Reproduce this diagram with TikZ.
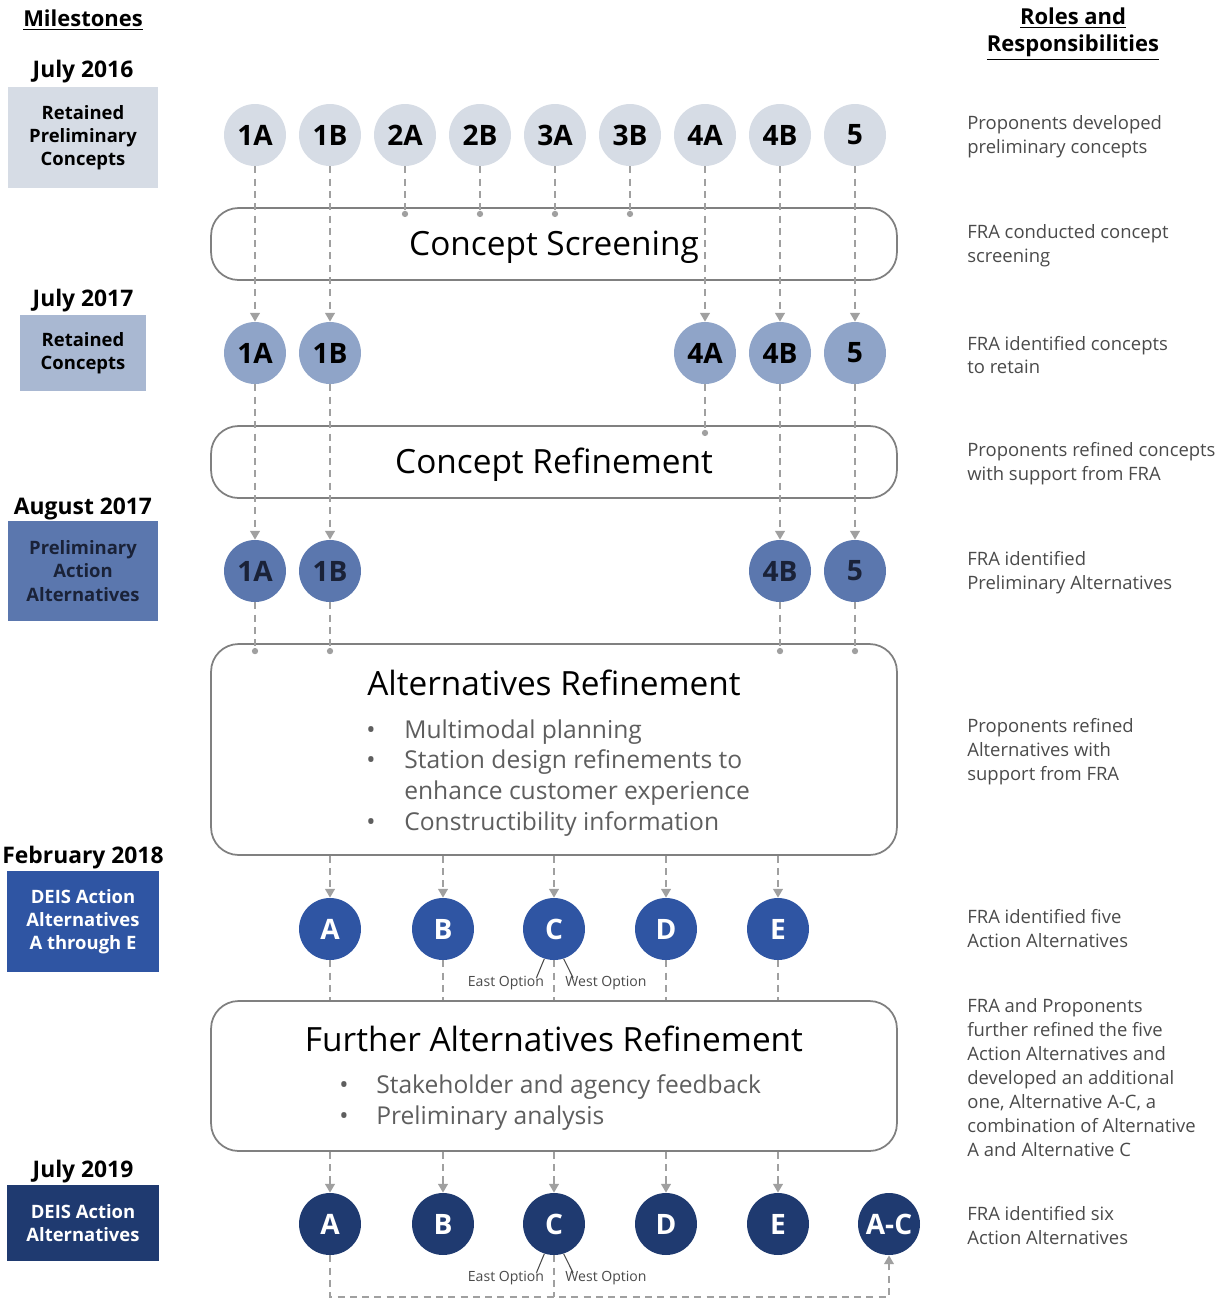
\documentclass[tikz,border=0pt]{standalone}
\usepackage{fontspec}
\setmainfont{Open Sans}
\usepackage{xcolor}
\usetikzlibrary{arrows.meta,positioning}

\definecolor{lineGray}{HTML}{A0A0A0}
\definecolor{frameGray}{HTML}{808080}
\definecolor{noteGray}{HTML}{4A4A4A}
\definecolor{bulletGray}{HTML}{5E5E5E}
\definecolor{shadeA}{HTML}{D6DCE5}
\definecolor{shadeBbox}{HTML}{A9B8D2}
\definecolor{shadeB}{HTML}{8FA4C8}
\definecolor{shadeC}{HTML}{5B77AE}
\definecolor{shadeD}{HTML}{2F55A3}
\definecolor{shadeE}{HTML}{1F3A70}
\definecolor{inkNavy}{HTML}{1A2238}

\begin{document}
\begin{tikzpicture}[
  x=0.02cm, y=-0.02cm,
  mbox/.style={fill=#1, align=center, inner sep=0, minimum width=3cm, font=\bfseries\fontsize{10.5}{13.2}\selectfont},
  date/.style={yshift=-0.05cm, font=\bfseries\fontsize{13}{15}\selectfont},
  head/.style={yshift=-0.04cm, font=\bfseries\fontsize{12.5}{15.5}\selectfont, align=center},
  circ/.style={circle, fill=#1, minimum size=1.24cm, inner sep=0, font=\bfseries\fontsize{16}{16}\selectfont},
  stage/.style={draw=frameGray, line width=1pt, rounded corners=0.55cm, minimum width=13.72cm, inner sep=0},
  title/.style={font=\fontsize{19}{22}\selectfont},
  bullets/.style={anchor=west, align=left, inner sep=0, text=bulletGray, font=\fontsize{14}{17.6}\selectfont},
  note/.style={anchor=west, align=left, inner sep=0, yshift=-0.03cm, text=noteGray, font=\fontsize{10.5}{13.6}\selectfont},
  opt/.style={inner sep=0, text=noteGray, font=\fontsize{8}{9}\selectfont},
  dsh/.style={draw=lineGray, line width=1.1pt, dash pattern=on 4pt off 3pt},
  darr/.style={dsh, -{Triangle[width=5.5pt,length=5pt]}},
  ddot/.style={dsh, -{Circle[length=3.5pt]}}
]
  \useasboundingbox (0,0) rectangle (1230,1299);

  % headers
  \node[head] (hms) at (83,18) {\underline{Milestones}};
  \node[head] (hrr) at (1073,32) {\underline{Roles and}\\\underline{Responsibilities}};

  % milestones
  \node[date] (t1) at (83,69) {July 2016};
  \node[mbox=shadeA, minimum height=2.02cm] (m1) at (83,137.5) {Retained\\Preliminary\\Concepts};
  \node[date] (t2) at (83,298) {July 2017};
  \node[mbox=shadeBbox, minimum width=2.52cm, minimum height=1.52cm] (m2) at (83,353) {Retained\\Concepts};
  \node[date] (t3) at (83,506) {August 2017};
  \node[mbox=shadeC, minimum height=2cm, text=inkNavy] (m3) at (83,571) {Preliminary\\Action\\Alternatives};
  \node[date] (t4) at (83,855) {February 2018};
  \node[mbox=shadeD, minimum width=3.04cm, minimum height=2.02cm, text=white] (m4) at (83,921.5) {DEIS Action\\Alternatives\\A through E};
  \node[date] (t5) at (83,1169) {July 2019};
  \node[mbox=shadeE, minimum width=3.04cm, minimum height=1.52cm, text=white] (m5) at (83,1223) {DEIS Action\\Alternatives};

  % stages
  \node[stage, minimum height=1.44cm] (scr) at (554,244) {};
  \node[title] (scrT) at (554,247) {Concept Screening};
  \node[stage, minimum height=1.44cm] (ref) at (554,462) {};
  \node[title] (refT) at (554,465) {Concept Refinement};
  \node[stage, minimum height=4.22cm] (alt) at (554,749.5) {};
  \node[title] (altT) at (554,683) {Alternatives Refinement};
  \node[bullets] (altB) at (366,778) {\makebox[0.76cm][l]{\textbullet}Multimodal planning\\
    \makebox[0.76cm][l]{\textbullet}Station design refinements to\\
    \makebox[0.76cm][l]{}enhance customer experience\\
    \makebox[0.76cm][l]{\textbullet}Constructibility information};
  \node[stage, minimum height=3cm] (fur) at (554,1076) {};
  \node[title] (furT) at (554,1039) {Further Alternatives Refinement};
  \node[bullets] (furB) at (339,1102.5) {\makebox[0.74cm][l]{\textbullet}Stakeholder and agency feedback\\
    \makebox[0.74cm][l]{\textbullet}Preliminary analysis};

  % preliminary concepts
  \node[circ=shadeA] (p1A) at (255,135) {1A};
  \node[circ=shadeA] (p1B) at (330,135) {1B};
  \node[circ=shadeA] (p2A) at (405,135) {2A};
  \node[circ=shadeA] (p2B) at (480,135) {2B};
  \node[circ=shadeA] (p3A) at (555,135) {3A};
  \node[circ=shadeA] (p3B) at (630,135) {3B};
  \node[circ=shadeA] (p4A) at (705,135) {4A};
  \node[circ=shadeA] (p4B) at (780,135) {4B};
  \node[circ=shadeA] (p5) at (855,135) {5};

  % retained concepts
  \node[circ=shadeB] (r1A) at (255,353) {1A};
  \node[circ=shadeB] (r1B) at (330,353) {1B};
  \node[circ=shadeB] (r4A) at (705,353) {4A};
  \node[circ=shadeB] (r4B) at (780,353) {4B};
  \node[circ=shadeB] (r5) at (855,353) {5};

  % preliminary action alternatives
  \node[circ=shadeC, text=inkNavy] (a1A) at (255,571) {1A};
  \node[circ=shadeC, text=inkNavy] (a1B) at (330,571) {1B};
  \node[circ=shadeC, text=inkNavy] (a4B) at (780,571) {4B};
  \node[circ=shadeC, text=inkNavy] (a5) at (855,571) {5};

  % DEIS 2018
  \node[circ=shadeD, text=white] (dA) at (330,929) {A};
  \node[circ=shadeD, text=white] (dB) at (443,929) {B};
  \node[circ=shadeD, text=white] (dC) at (554,929) {C};
  \node[circ=shadeD, text=white] (dD) at (666,929) {D};
  \node[circ=shadeD, text=white] (dE) at (778,929) {E};
  \node[opt] (dCe) at (506,983) {East Option};
  \node[opt] (dCw) at (606,983) {West Option};

  % DEIS 2019
  \node[circ=shadeE, text=white] (fA) at (330,1224) {A};
  \node[circ=shadeE, text=white] (fB) at (443,1224) {B};
  \node[circ=shadeE, text=white] (fC) at (554,1224) {C};
  \node[circ=shadeE, text=white] (fD) at (666,1224) {D};
  \node[circ=shadeE, text=white] (fE) at (778,1224) {E};
  \node[circ=shadeE, text=white] (fAC) at (889,1224) {A-C};
  \node[opt] (fCe) at (506,1278) {East Option};
  \node[opt] (fCw) at (606,1278) {West Option};

  \coordinate (d2A) at (405,217);
  \coordinate (d2B) at (480,217);
  \coordinate (d3A) at (555,217);
  \coordinate (d3B) at (630,217);
  \coordinate (d4A) at (705,436);
  \coordinate (low) at (0,1297);

  % connectors
  \draw[darr] (p1A) -- (r1A);
  \draw[darr] (p1B) -- (r1B);
  \draw[ddot] (p2A) -- (d2A);
  \draw[ddot] (p2B) -- (d2B);
  \draw[ddot] (p3A) -- (d3A);
  \draw[ddot] (p3B) -- (d3B);
  \draw[darr] (p4A) -- (r4A);
  \draw[darr] (p4B) -- (r4B);
  \draw[darr] (p5) -- (r5);

  \draw[darr] (r1A) -- (a1A);
  \draw[darr] (r1B) -- (a1B);
  \draw[ddot] (r4A) -- (d4A);
  \draw[darr] (r4B) -- (a4B);
  \draw[darr] (r5) -- (a5);

  \draw[ddot] (a1A) -- ([yshift=-0.22cm]alt.north -| a1A);
  \draw[ddot] (a1B) -- ([yshift=-0.22cm]alt.north -| a1B);
  \draw[ddot] (a4B) -- ([yshift=-0.22cm]alt.north -| a4B);
  \draw[ddot] (a5) -- ([yshift=-0.22cm]alt.north -| a5);

  \draw[darr] (alt.south -| dA) -- (dA);
  \draw[darr] (alt.south -| dB) -- (dB);
  \draw[darr] (alt.south -| dC) -- (dC);
  \draw[darr] (alt.south -| dD) -- (dD);
  \draw[darr] (alt.south -| dE) -- (dE);

  \draw[dsh] (dA) -- (fur.north -| dA);
  \draw[dsh] (dB) -- (fur.north -| dB);
  \draw[dsh] (dC) -- (fur.north -| dC);
  \draw[dsh] (dD) -- (fur.north -| dD);
  \draw[dsh] (dE) -- (fur.north -| dE);
  \draw[noteGray, line width=0.6pt] (dC.252) -- ([xshift=-0.16cm, yshift=-0.04cm]dCe.north east);
  \draw[noteGray, line width=0.6pt] (dC.288) -- ([xshift=0.16cm, yshift=-0.04cm]dCw.north west);

  \draw[darr] (fur.south -| fA) -- (fA);
  \draw[darr] (fur.south -| fB) -- (fB);
  \draw[darr] (fur.south -| fC) -- (fC);
  \draw[darr] (fur.south -| fD) -- (fD);
  \draw[darr] (fur.south -| fE) -- (fE);
  \draw[noteGray, line width=0.6pt] (fC.252) -- ([xshift=-0.16cm, yshift=-0.04cm]fCe.north east);
  \draw[noteGray, line width=0.6pt] (fC.288) -- ([xshift=0.16cm, yshift=-0.04cm]fCw.north west);
  \draw[dsh] (fC) -- (fC |- low);
  \draw[darr] (fA) -- (fA |- low) -| (fAC);

  % roles and responsibilities
  \node[note] (n1) at (967,135.5) {Proponents developed\\preliminary concepts};
  \node[note] (n2) at (967,244.5) {FRA conducted concept\\screening};
  \node[note] (n3) at (967,353.5) {FRA identified concepts\\to retain};
  \node[note] (n4) at (967,462) {Proponents refined concepts\\with support from FRA};
  \node[note] (n5) at (967,571) {FRA identified\\Preliminary Alternatives};
  \node[note] (n6) at (967,750) {Proponents refined\\Alternatives with\\support from FRA};
  \node[note] (n7) at (967,927) {FRA identified five\\Action Alternatives};
  \node[note] (n8) at (967,1076) {FRA and Proponents\\further refined the five\\Action Alternatives and\\developed an additional\\one, Alternative A-C, a\\combination of Alternative\\A and Alternative C};
  \node[note] (n9) at (967,1224) {FRA identified six\\Action Alternatives};
\end{tikzpicture}
\end{document}
